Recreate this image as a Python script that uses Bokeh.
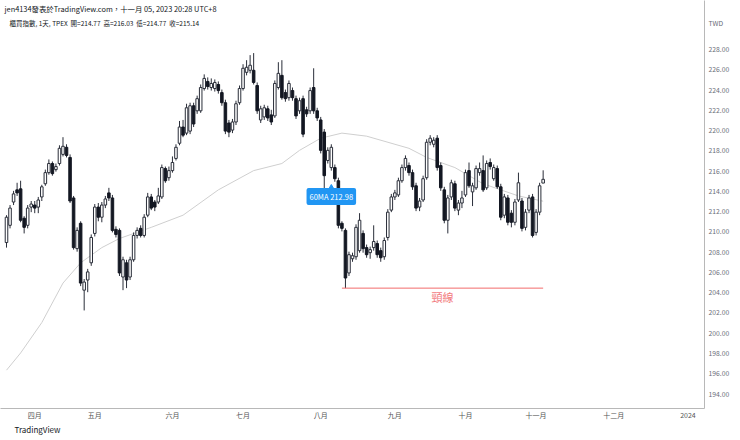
from bokeh.plotting import figure
from bokeh.models import Range1d, FixedTicker, Label, ColumnDataSource, NumeralTickFormatter, Title
from bokeh.embed import file_html
from bokeh.resources import INLINE

# ---------------- data ----------------
opens = [208.9, 210.6, 212.9, 214.1, 214.2, 211.3, 210.6, 212.4, 212.6, 212.4,
         213.4, 214.7, 215.8, 216.7, 216.1, 216.7, 217.6, 218.3, 217.3, 213.3,
         208.3, 210.8, 204.2, 205.2, 206.9, 209.8, 212.4, 211.4, 212.6, 213.8,
         213.3, 210.2, 210.1, 205.5, 206.9, 205.5, 207.2, 209.6, 210.3, 209.6,
         211.6, 213.4, 212.9, 212.9, 213.4, 216.2, 215.3, 216.0, 217.2, 218.7,
         220.3, 219.7, 219.9, 222.4, 221.9, 221.9, 224.1, 224.8, 224.2, 224.1,
         224.5, 223.7, 222.7, 220.7, 220.0, 220.8, 222.7, 224.1, 225.7, 225.9,
         225.9, 224.4, 221.0, 221.3, 222.1, 221.5, 221.4, 224.2, 225.4, 223.7,
         223.2, 223.9, 223.1, 221.9, 223.1, 222.0, 221.9, 224.2, 221.9, 221.0,
         219.8, 217.0, 216.3, 216.3, 215.0, 210.8, 210.1, 205.9, 207.3, 207.5,
         208.1, 209.8, 208.4, 207.9, 208.4, 208.8, 208.1, 207.5, 209.4, 212.1,
         213.4, 213.6, 215.0, 216.3, 216.5, 215.8, 214.5, 212.4, 213.1, 215.3,
         218.8, 218.6, 219.2, 216.5, 214.1, 211.1, 213.4, 214.7, 212.1, 212.8,
         213.6, 216.0, 213.9, 214.3, 215.8, 216.0, 214.3, 216.8, 215.2, 216.2,
         214.4, 211.6, 213.3, 211.8, 210.9, 213.1, 213.0, 210.4, 212.1, 213.4,
         209.9, 211.9, 214.77]
highs = [211.6, 212.6, 214.0, 214.8, 215.0, 211.5, 212.6, 213.0, 213.0, 213.4,
         214.6, 216.1, 217.1, 216.9, 216.7, 218.5, 219.3, 218.6, 217.6, 213.5,
         210.4, 211.0, 205.3, 206.3, 209.7, 212.7, 212.8, 212.9, 213.5, 214.3,
         213.6, 210.5, 210.3, 207.5, 207.2, 207.5, 209.9, 210.4, 210.6, 211.7,
         213.8, 213.7, 213.1, 214.3, 216.6, 216.4, 216.4, 217.4, 218.6, 220.9,
         221.0, 222.6, 222.7, 222.7, 223.4, 224.5, 225.5, 225.2, 225.1, 225.0,
         224.8, 224.0, 223.0, 221.0, 221.1, 222.9, 224.4, 226.5, 226.9, 227.4,
         227.6, 224.7, 222.4, 222.5, 222.4, 222.0, 224.9, 226.7, 226.9, 224.0,
         224.9, 224.2, 223.4, 223.2, 223.4, 222.3, 224.2, 226.1, 222.2, 221.3,
         220.1, 218.3, 218.6, 216.6, 215.3, 211.0, 210.3, 208.0, 207.9, 210.7,
         211.8, 210.1, 208.7, 208.5, 210.6, 209.1, 208.4, 209.4, 212.2, 213.7,
         214.1, 215.3, 216.6, 217.5, 216.8, 216.1, 214.8, 213.3, 215.5, 219.1,
         219.5, 219.3, 219.5, 216.8, 214.4, 213.6, 215.1, 215.0, 213.1, 214.0,
         216.1, 216.8, 214.8, 216.5, 216.8, 217.5, 217.0, 217.2, 216.6, 216.5,
         214.7, 213.7, 213.6, 212.1, 213.2, 215.8, 213.3, 212.2, 213.6, 213.7,
         212.2, 214.8, 216.03]
lows = [208.4, 210.3, 212.6, 213.5, 210.9, 209.8, 210.3, 211.9, 211.8, 211.8,
        213.0, 214.5, 215.6, 215.5, 215.9, 216.5, 217.4, 217.3, 212.8, 208.2,
        208.0, 204.6, 202.2, 204.0, 206.6, 209.5, 211.0, 210.9, 212.3, 213.0,
        209.9, 209.4, 205.6, 204.2, 204.4, 205.2, 207.0, 209.3, 209.4, 209.4,
        211.4, 212.1, 212.0, 212.7, 213.2, 214.8, 215.0, 215.8, 217.0, 218.5,
        219.3, 219.5, 219.6, 220.3, 221.6, 221.7, 223.9, 224.0, 223.9, 223.8,
        223.6, 222.4, 219.6, 219.3, 219.7, 220.5, 222.5, 223.9, 225.4, 225.6,
        224.5, 221.6, 220.7, 221.0, 220.9, 220.5, 221.2, 224.0, 223.0, 222.8,
        222.9, 222.9, 221.1, 221.6, 219.3, 221.3, 221.6, 221.6, 220.9, 217.7,
        214.2, 216.7, 216.0, 214.9, 210.3, 210.0, 204.4, 205.6, 207.0, 207.2,
        207.9, 207.9, 207.4, 207.3, 208.1, 207.4, 207.0, 207.2, 209.1, 211.9,
        213.1, 213.4, 214.8, 216.0, 215.5, 214.1, 212.0, 212.0, 212.9, 215.1,
        218.5, 218.3, 216.0, 214.0, 210.8, 209.8, 213.1, 212.0, 211.6, 212.3,
        213.4, 214.3, 212.5, 214.1, 215.5, 213.9, 214.1, 216.1, 215.0, 214.2,
        211.1, 211.3, 210.6, 210.4, 210.6, 212.9, 210.0, 210.1, 211.8, 209.4,
        209.6, 211.6, 214.77]
closes = [211.4, 212.3, 213.7, 213.8, 211.1, 210.4, 212.3, 212.7, 212.3, 213.1,
          214.4, 215.8, 216.7, 215.7, 216.4, 218.2, 218.4, 217.5, 213.0, 208.4,
          210.1, 204.9, 205.0, 206.0, 209.4, 212.4, 211.4, 212.6, 213.2, 213.3,
          210.1, 209.7, 205.9, 207.2, 205.2, 207.2, 209.6, 210.1, 209.6, 211.4,
          213.4, 212.3, 212.4, 213.5, 216.3, 215.0, 216.0, 216.8, 218.3, 220.3,
          219.5, 222.2, 222.4, 220.6, 223.1, 224.2, 225.1, 224.3, 224.6, 224.7,
          223.9, 222.7, 219.9, 219.8, 220.8, 222.6, 224.1, 226.1, 226.2, 226.4,
          224.7, 221.9, 222.1, 222.2, 221.2, 220.8, 224.6, 225.6, 223.2, 223.1,
          224.6, 223.2, 221.4, 222.9, 219.6, 221.6, 223.9, 221.9, 221.2, 218.0,
          215.5, 218.0, 218.3, 215.2, 210.6, 210.3, 205.4, 207.7, 207.6, 210.4,
          211.1, 208.3, 207.7, 208.2, 209.0, 207.7, 207.4, 209.1, 211.9, 213.4,
          213.8, 215.0, 216.3, 217.2, 215.8, 214.4, 212.3, 213.0, 215.2, 218.8,
          219.2, 219.0, 216.3, 214.3, 211.1, 213.3, 214.8, 212.3, 212.8, 213.3,
          215.8, 214.5, 214.5, 216.2, 216.2, 214.1, 216.7, 216.4, 216.3, 214.4,
          211.4, 213.4, 210.9, 210.9, 212.9, 214.8, 210.3, 211.9, 213.3, 209.6,
          211.9, 214.5, 215.14]

# 60-day moving average, read at a number of bars
ma_bar = [0, 4, 10, 16, 21, 27, 32, 41, 50, 60, 70, 78, 83, 89, 95, 102, 114, 119, 127, 135, 145, 152]
ma_val = [196.3, 198.0, 201.0, 204.9, 206.9, 208.4, 209.3, 210.4, 211.6, 214.1, 216.0,
          216.7, 218.0, 219.2, 219.7, 219.4, 218.2, 217.3, 216.3, 214.7, 213.5, 212.98]

month_ticks = [8, 25, 47, 67, 89, 110, 130, 150, 172, 193]
month_labels = ["四月", "五月", "六月", "七月", "八月", "九月", "十月", "十一月", "十二月", "2024"]
price_ticks = [194, 196, 198, 200, 202, 204, 206, 208, 210, 212, 214, 216, 218, 220,
               222, 224, 226, 228]
currency = "TWD"

neck_start, neck_end, neck_price = 95, 152, 204.4
ma_label_bar, ma_label_price = 92, 213.44
ma_label_text = "60MA 212.98"
neck_text = "頸線"
header1 = "jen4134發表於TradingView.com，十一月 05, 2023 20:28 UTC+8"
header2 = "櫃買指數, 1天, TPEX\u00a0\u00a0開=214.77\u00a0\u00a0高=216.03\u00a0\u00a0低=214.77\u00a0\u00a0收=215.14"
footer = "TradingView"

# ---------------- layout ----------------
W, H = 740, 440
RIGHT, BOTTOM = 36, 32
FW, FH = W - RIGHT, H - BOTTOM
x_lo, x_hi = -1.70, 197.7
y_lo, y_hi = 192.52, 232.79


def px2x(fx):
    return x_lo + fx / FW * (x_hi - x_lo)


def px2y(fy):
    return y_hi - fy / FH * (y_hi - y_lo)


FONT = "Noto Sans CJK TC"
DARK = "#131722"

p = figure(width=W, height=H, output_backend="svg", toolbar_location=None,
           x_range=Range1d(x_lo, x_hi), y_range=Range1d(y_lo, y_hi),
           y_axis_location="right", min_border_left=0, min_border_top=0,
           min_border_right=RIGHT, min_border_bottom=BOTTOM)
p.outline_line_color = None
p.xgrid.visible = False
p.ygrid.visible = False
p.background_fill_color = "white"
p.border_fill_color = "white"

xa = p.xaxis[0]
xa.ticker = FixedTicker(ticks=month_ticks)
xa.major_label_overrides = {t: l for t, l in zip(month_ticks, month_labels)}
xa.axis_line_color = "#b8b8b8"
xa.major_tick_line_color = None
xa.minor_tick_line_color = None
xa.major_tick_out = 0
xa.major_tick_in = 0
xa.minor_tick_out = 0
xa.major_label_standoff = 1
xa.major_label_text_font = FONT
xa.major_label_text_font_size = "7px"
xa.major_label_text_color = "#555555"

# the currency sits as a label at the top of the price scale
twd_price = px2y(22)
ya = p.yaxis[0]
ya.ticker = FixedTicker(ticks=price_ticks + [twd_price])
ya.formatter = NumeralTickFormatter(format="0.00")
ya.major_label_overrides = {twd_price: currency}
ya.axis_line_color = "#b8b8b8"
ya.major_tick_line_color = None
ya.minor_tick_line_color = None
ya.major_tick_out = 0
ya.major_tick_in = 0
ya.minor_tick_out = 0
ya.major_label_standoff = 4
ya.major_label_text_font = FONT
ya.major_label_text_font_size = "6.8px"
ya.major_label_text_color = "#6a6d78"

# moving average
p.line(ma_bar, ma_val, line_color="#cfcfcf", line_width=1)

# candles
idx = list(range(len(opens)))
up = [i for i in idx if closes[i] >= opens[i]]
dn = [i for i in idx if closes[i] < opens[i]]
p.segment(x0=idx, x1=idx, y0=lows, y1=highs, line_color="#2a2e39", line_width=1)
src_up = ColumnDataSource(dict(x=up, top=[closes[i] for i in up], bottom=[opens[i] for i in up]))
src_dn = ColumnDataSource(dict(x=dn, top=[opens[i] for i in dn], bottom=[closes[i] for i in dn]))
p.vbar(x="x", top="top", bottom="bottom", width=0.72, source=src_up,
       fill_color="white", line_color="#2a2e39", line_width=1)
p.vbar(x="x", top="top", bottom="bottom", width=0.72, source=src_dn,
       fill_color=DARK, line_color=DARK, line_width=1)

# neckline
p.segment(x0=[neck_start], x1=[neck_end], y0=[neck_price], y1=[neck_price],
          line_color="#f26b6b", line_width=1)
p.add_layout(Label(x=(neck_start + neck_end) / 2, y=px2y(296), text=neck_text,
                   text_align="center", text_baseline="middle", text_font=FONT,
                   text_font_size="11px", text_color="#f27a7d"))

# MA label
p.scatter(x=[ma_label_bar], y=[ma_label_price + 0.85], marker="triangle", size=6,
          fill_color="#2196f3", line_color="#2196f3")
p.add_layout(Label(x=ma_label_bar, y=ma_label_price, text=ma_label_text,
                   text_align="center", text_baseline="middle", text_font=FONT,
                   text_font_size="7.5px", text_color="white",
                   background_fill_color="#2196f3", padding=3, border_radius=2))

# header texts
p.add_layout(Label(x=px2x(4), y=px2y(8), text=header1, text_align="left",
                   text_baseline="middle", text_font=FONT, text_font_size="7.4px",
                   text_color=DARK))
p.add_layout(Label(x=px2x(9), y=px2y(22), text=header2, text_align="left",
                   text_baseline="middle", text_font=FONT, text_font_size="6.5px",
                   text_color=DARK))

# footer
p.add_layout(Title(text=footer, align="left", text_font=FONT,
                   text_font_size="8px", text_font_style="normal", text_color=DARK,
                   standoff=-2, offset=14),
             "below")

open("out.html", "w").write(file_html(p, INLINE))
